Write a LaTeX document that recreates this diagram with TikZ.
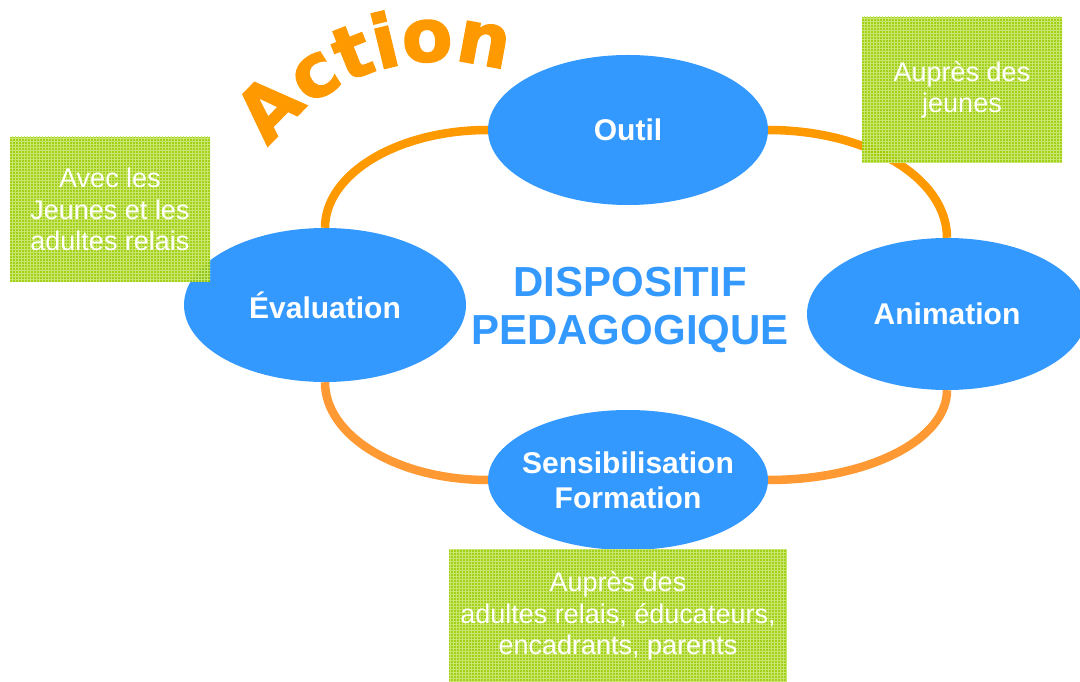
\documentclass[tikz,border=0pt]{standalone}
\usepackage{fontspec}
\setmainfont{Liberation Sans}
\newfontfamily\actfont[FakeBold=2]{DejaVu Sans Bold}
\usetikzlibrary{shapes.geometric,decorations.text,patterns,backgrounds}
\definecolor{eblue}{HTML}{3399FF}
\definecolor{aorange}{HTML}{FF9900}
\definecolor{lorange}{HTML}{FF9933}
\definecolor{bgreen}{HTML}{99CC00}
\definecolor{lgreen}{HTML}{C8E66E}
\begin{document}
\begin{tikzpicture}[x=1pt,y=1pt,
  ell/.style={ellipse, fill=eblue, inner sep=0pt, text=white,
    font=\bfseries\fontsize{30}{35}\selectfont, align=center},
  gbox/.style={rectangle, fill=bgreen, fill opacity=0.9, text opacity=1,
    text=white, inner sep=0pt, align=center,
    font=\fontsize{27}{31.5}\selectfont,
    postaction={pattern=grid, pattern color=lgreen}},
  arcline/.style={line width=8.5pt},
  centertext/.style={text=eblue, font=\bfseries\fontsize{42}{48}\selectfont, align=center}
]
\useasboundingbox (0,0) rectangle (1080,681);

% ellipses
\node[ell, minimum width=280pt, minimum height=150pt] (outil) at (628,551) {Outil};
\node[ell, minimum width=282pt, minimum height=154pt] (eval) at (325,376) {Évaluation};
\node[ell, minimum width=280pt, minimum height=152pt] (anim) at (947,367) {Animation};
\node[ell, inner xsep=-20pt, minimum width=280pt, minimum height=140pt] (sens) at (628,201) {Sensibilisation\\Formation};

% connecting arcs
\begin{scope}[on background layer]
\draw[arcline, aorange] (outil.west) .. controls +(-90,0) and +(0,54) .. (eval.north);
\draw[arcline, aorange] (outil.east) .. controls +(99,0) and +(0,60) .. (anim.north);
\draw[arcline, lorange] (eval.south) .. controls +(0,-54) and +(-90,0) .. (sens.west);
\draw[arcline, lorange] (anim.south) .. controls +(0,-50) and +(99,0) .. (sens.east);
\end{scope}

% centre text
\node[centertext] (disp) at (630,371) {DISPOSITIF\\PEDAGOGIQUE};

% green boxes
\node[gbox, minimum width=200pt, minimum height=145pt] (b1) at (110,471.5) {Avec les\\Jeunes et les\\adultes relais};
\node[gbox, minimum width=200pt, minimum height=146pt] (b2) at (962,591) {Auprès des\\jeunes};
\node[gbox, minimum width=338pt, minimum height=134pt] (b3) at (618,65) {Auprès des\\adultes relais, éducateurs,\\encadrants, parents};

% Action
\path[decorate, decoration={text along path,
  text={|\actfont\fontsize{74}{74}\selectfont\color{aorange}|Action},
  text align=center}]
  (441,406) ++(155:214) arc[start angle=155, end angle=61, radius=214];
\end{tikzpicture}
\end{document}
